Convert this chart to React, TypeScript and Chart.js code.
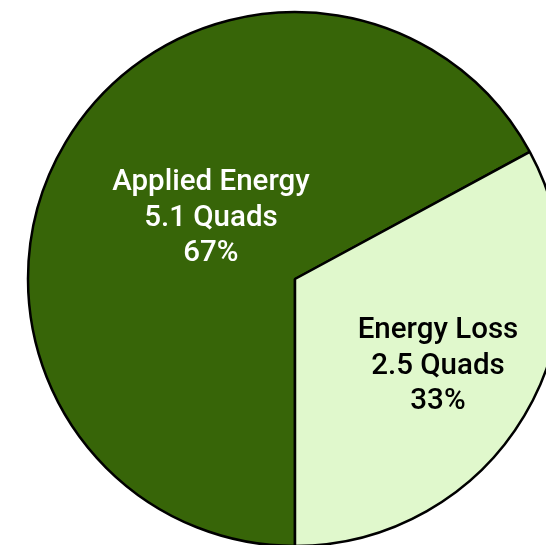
import React, { useEffect, useRef } from "react";
import { Chart, registerables } from "chart.js";

Chart.register(...registerables);

// Energy split, in quads
const categories = ["Applied Energy", "Energy Loss"];
const quads = [5.1, 2.5];
const percentLabels = ["67%", "33%"];
const sliceColors = ["#376508", "#e0f8cc"];
const labelColors = ["#ffffff", "#000000"];

const CANVAS = 600;

// Draws the three-line label inside each slice
const sliceLabels = {
  id: "sliceLabels",
  afterDatasetsDraw(chart: Chart) {
    const { ctx } = chart;
    const meta = chart.getDatasetMeta(0);
    const fractions = [0.388, 0.628];
    const nudges = [5, 0.7]; // degrees
    meta.data.forEach((el: any, i: number) => {
      const { x, y, startAngle, endAngle, outerRadius } = el.getProps(
        ["x", "y", "startAngle", "endAngle", "outerRadius"],
        true
      );
      const mid = (startAngle + endAngle) / 2 + (nudges[i] * Math.PI) / 180;
      const r = outerRadius * fractions[i];
      const cx = x + Math.cos(mid) * r;
      const cy = y + Math.sin(mid) * r;
      const lines = [categories[i], `${quads[i]} Quads`, percentLabels[i]];
      ctx.save();
      ctx.font = "500 29.5px Roboto, 'Liberation Sans', sans-serif";
      ctx.fillStyle = labelColors[i];
      ctx.textAlign = "center";
      ctx.textBaseline = "middle";
      const lh = 35.5;
      lines.forEach((t, k) => {
        ctx.fillText(t, cx, cy + (k - 1) * lh);
      });
      ctx.restore();
    });
  },
};

export default function App() {
  const ref = useRef<HTMLCanvasElement>(null);

  useEffect(() => {
    if (!ref.current) return;
    const chart = new Chart(ref.current, {
      type: "pie",
      data: {
        labels: categories,
        datasets: [
          {
            data: quads,
            backgroundColor: sliceColors,
            borderColor: "#000000",
            borderWidth: 2.5,
            radius: 267,
            hoverOffset: 0,
          },
        ],
      },
      options: {
        responsive: false,
        animation: false,
        rotation: 180,
        layout: { padding: 0 },
        plugins: {
          legend: { display: false },
          tooltip: { enabled: false },
        },
      },
      plugins: [sliceLabels],
    });
    return () => chart.destroy();
  }, []);

  return (
    <div
      style={{
        position: "fixed",
        left: 0,
        top: 0,
        width: 546,
        height: 545,
        overflow: "hidden",
        background: "#ffffff",
      }}
    >
      <canvas
        ref={ref}
        width={CANVAS}
        height={CANVAS}
        style={{ position: "absolute", left: -5, top: -21, width: CANVAS, height: CANVAS }}
      />
    </div>
  );
}
